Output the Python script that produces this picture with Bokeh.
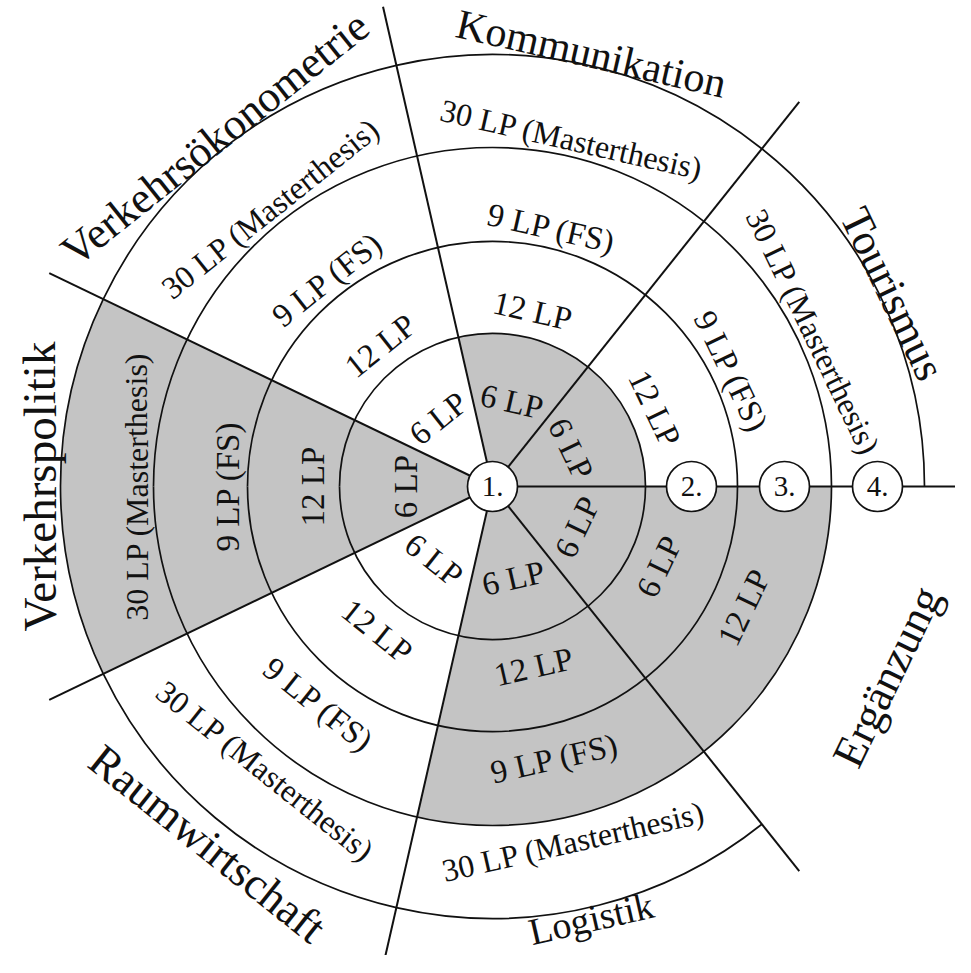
import numpy as np
from bokeh.plotting import figure
from bokeh.models import Range1d
from bokeh.embed import file_html
from bokeh.resources import INLINE
from bokeh.core.properties import value

# ---------------- data ----------------
sectors = ["Tourismus", "Kommunikation", "Verkehrsökonometrie", "Verkehrspolitik",
           "Raumwirtschaft", "Logistik", "Ergänzung"]
ring1 = ["6 LP", "6 LP", "6 LP", "6 LP", "6 LP", "6 LP", "6 LP"]
ring2 = ["12 LP", "12 LP", "12 LP", "12 LP", "12 LP", "12 LP", "6 LP"]
ring3 = ["9 LP (FS)", "9 LP (FS)", "9 LP (FS)", "9 LP (FS)", "9 LP (FS)", "9 LP (FS)", "12 LP"]
ring4 = ["30 LP (Masterthesis)"] * 6 + [""]
shaded1 = [1, 1, 0, 1, 0, 1, 1]
shaded2 = [0, 0, 0, 1, 0, 1, 1]
shaded3 = [0, 0, 0, 1, 0, 1, 1]
shaded4 = [0, 0, 0, 1, 0, 0, 0]
semesters = ["1.", "2.", "3.", "4."]

# ---------------- geometry / style ----------------
CX, CY = 500.0, -494.0
R = [0, 153, 245, 339, 432]
LINE_END = 492
MARK_R = 25
SEM_R = [0, 199, 292, 385]
LBL_R_UP = [87, 180, 265, 356]     # label anchors, upper half (tops outward)
LBL_R_LO = [94, 185, 279, 364]     # label anchors, lower half (tops inward)
NAME_R = [444, 444, 445, 453, 457, 443, 438]
NAME_SIZE = ["44px", "42px", "44px", "47px", "45px", "38px", "45px"]
GRAY = "#c4c4c4"
FONT = value("Liberation Serif")
INK = "#111111"

n = len(sectors)
step = 2 * np.pi / n
mids = [(i + 0.5) * step for i in range(n)]

p = figure(width=955, height=955, x_range=Range1d(8, 963), y_range=Range1d(-963, -8),
           x_axis_type=None, y_axis_type=None, toolbar_location=None,
           output_backend="svg", min_border=0)
p.grid.visible = False
p.outline_line_color = None
p.background_fill_color = "white"
p.border_fill_color = "white"

# shaded cells
for ring_idx, shaded in enumerate([shaded1, shaded2, shaded3, shaded4]):
    for i in range(n):
        if shaded[i]:
            p.annular_wedge(x=CX, y=CY, inner_radius=R[ring_idx], outer_radius=R[ring_idx + 1],
                            start_angle=i * step, end_angle=(i + 1) * step,
                            fill_color=GRAY, line_color=None)

# ring circles
for r in R[1:4]:
    p.arc(x=CX, y=CY, radius=r, start_angle=0, end_angle=np.pi, line_color=INK, line_width=1.7)
    p.arc(x=CX, y=CY, radius=r, start_angle=np.pi, end_angle=2 * np.pi, line_color=INK, line_width=1.7)
# outer ring (not around the last sector)
p.arc(x=CX, y=CY, radius=R[4], start_angle=0, end_angle=(n - 1) * step,
      direction="anticlock", line_color=INK, line_width=1.7)

# sector divider lines
angles = [i * step for i in range(n)]
p.segment(x0=[CX] * n, y0=[CY] * n,
          x1=[CX + LINE_END * np.cos(a) for a in angles],
          y1=[CY + LINE_END * np.sin(a) for a in angles],
          line_color=INK, line_width=2.0)

# semester markers on the 0-degree line
mx = [CX + r for r in SEM_R]
my = [CY] * len(SEM_R)
p.circle(x=mx, y=my, radius=MARK_R, fill_color="white", line_color=INK, line_width=1.7)
p.text(x=mx, y=my, text=semesters, text_font=FONT, text_font_size="29px",
       text_align="center", text_baseline="middle", text_color=INK)


def upper(theta):
    return theta <= np.pi + 1e-9


def rot(theta):
    # upper half: tops outward, lower half: tops inward
    return theta - np.pi / 2 if upper(theta) else theta + np.pi / 2


def put(i, t, r, size):
    th = mids[i]
    p.text(x=[CX + r * np.cos(th)], y=[CY + r * np.sin(th)], text=[t], angle=[rot(th)],
           text_font=FONT, text_font_size=size,
           text_align="center", text_baseline="middle", text_color=INK)


for k, (ring, size) in enumerate([(ring1, "33px"), (ring2, "33px"), (ring3, "33px"), (ring4, "32px")]):
    for i, t in enumerate(ring):
        if t:
            put(i, t, LBL_R_UP[k] if upper(mids[i]) else LBL_R_LO[k], size)

for i, t in enumerate(sectors):
    put(i, t, NAME_R[i], NAME_SIZE[i])

open("out.html", "w").write(file_html(p, INLINE))
